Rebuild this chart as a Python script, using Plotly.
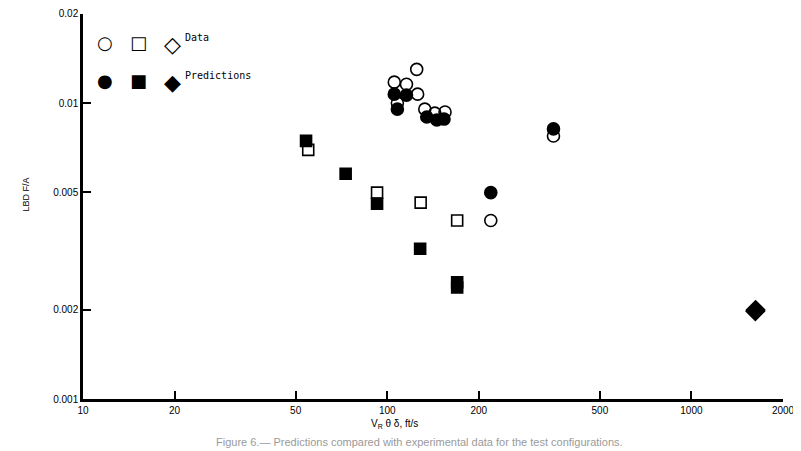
import plotly.graph_objects as go

# Data (open symbols)
data_circle_v = [125, 105.5, 115.7, 125.9, 108, 132.9, 143.4, 154.9, 219, 352]
data_circle_fa = [0.0130, 0.01177, 0.01158, 0.01072, 0.0100, 0.00954, 0.00925, 0.00933, 0.00401, 0.00774]
data_square_v = [55.0, 92.6, 128.8, 169.8]
data_square_fa = [0.00695, 0.00498, 0.00461, 0.00401]
data_diamond_v = [1622]
data_diamond_fa = [0.00198]

# Predictions (filled symbols)
pred_circle_v = [105.5, 115.7, 108, 134.9, 145.6, 153.7, 219, 352]
pred_circle_fa = [0.01072, 0.01064, 0.00954, 0.00897, 0.00877, 0.00883, 0.00498, 0.00818]
pred_square_v = [54.1, 73.0, 92.6, 128.3, 169.8, 169.8]
pred_square_fa = [0.00745, 0.00577, 0.00457, 0.00322, 0.00248, 0.00238]
pred_diamond_v = [1625]
pred_diamond_fa = [0.00200]

x_ticks = [10, 20, 50, 100, 200, 500, 1000, 2000]
y_ticks = [0.001, 0.002, 0.005, 0.01, 0.02]
y_tick_text = ["0.001", "0.002", "0.005", "0.01", "0.02"]

FONT = "Liberation Sans"

fig = go.Figure()


def add_points(xs, ys, symbol, size=12):
    fig.add_trace(go.Scatter(
        x=xs, y=ys, mode="markers", showlegend=False,
        marker=dict(symbol=symbol, size=size, color="black",
                    line=dict(color="black", width=1.6)),
        hoverinfo="x+y"
    ))


# data first, predictions drawn on top
add_points(data_circle_v, data_circle_fa, "circle-open", 12)
add_points(data_square_v, data_square_fa, "square-open", 11)
add_points(data_diamond_v, data_diamond_fa, "diamond-open", 14)
add_points(pred_circle_v, pred_circle_fa, "circle", 12)
add_points(pred_square_v, pred_square_fa, "square", 11)
add_points(pred_diamond_v, pred_diamond_fa, "diamond", 14)

# hand-drawn style legend in the upper left corner
legend_rows = [("○", "□", "◇", "Data", 0.958), ("●", "■", "◆", "Predictions", 0.86)]
annotations = []
for c, s, d, label, yy in legend_rows:
    for sym, xp, fs in [(c, 0.017, 18), (s, 0.064, 18), (d, 0.113, 22)]:
        annotations.append(dict(text=sym, x=xp, y=yy, xref="paper", yref="paper",
                                showarrow=False, font=dict(family="DejaVu Sans", size=fs, color="black")))
    annotations.append(dict(text=label, x=0.143, y=yy, xref="paper", yref="paper", xanchor="left",
                            showarrow=False, font=dict(family="DejaVu Sans Mono", size=10, color="black")))

annotations.append(dict(text="LBD F/A", textangle=-90, x=-0.092, y=0.53, xref="paper", yref="paper",
                        showarrow=False, font=dict(family=FONT, size=9, color="black")))
annotations.append(dict(text="V<sub>R</sub> θ δ, ft/s", x=0.445, y=-0.064, xref="paper", yref="paper",
                        yanchor="middle", showarrow=False, font=dict(family=FONT, size=10, color="black")))
annotations.append(dict(text="Figure 6.— Predictions compared with experimental data for the test configurations.",
                        x=0.48, y=-0.112, xref="paper", yref="paper", yanchor="middle", showarrow=False,
                        font=dict(family=FONT, size=11, color="#9a9a9a")))

# page body adds an 8px offset, so margins are shifted to land the axes where the scan has them
fig.update_layout(
    width=801, height=451,
    margin=dict(l=75, r=26, t=6, b=60, autoexpand=False),
    paper_bgcolor="white", plot_bgcolor="white",
    font=dict(family=FONT, size=10, color="black"),
    annotations=annotations,
    xaxis=dict(
        type="log", range=[1, 3.301], automargin=False,
        tickvals=x_ticks, ticktext=[str(v) for v in x_ticks],
        ticks="inside", ticklen=8, tickwidth=1.5, tickcolor="black",
        showline=True, linecolor="black", linewidth=2.5,
        showgrid=False, zeroline=False, mirror=False,
        tickfont=dict(family=FONT, size=10)
    ),
    yaxis=dict(
        type="log", range=[-3, -1.699], automargin=False,
        tickvals=y_ticks, ticktext=y_tick_text,
        ticks="inside", ticklen=8, tickwidth=1.5, tickcolor="black",
        showline=True, linecolor="black", linewidth=2.5,
        showgrid=False, zeroline=False, mirror=False,
        tickfont=dict(family=FONT, size=10)
    ),
)

fig.write_html("out.html")
